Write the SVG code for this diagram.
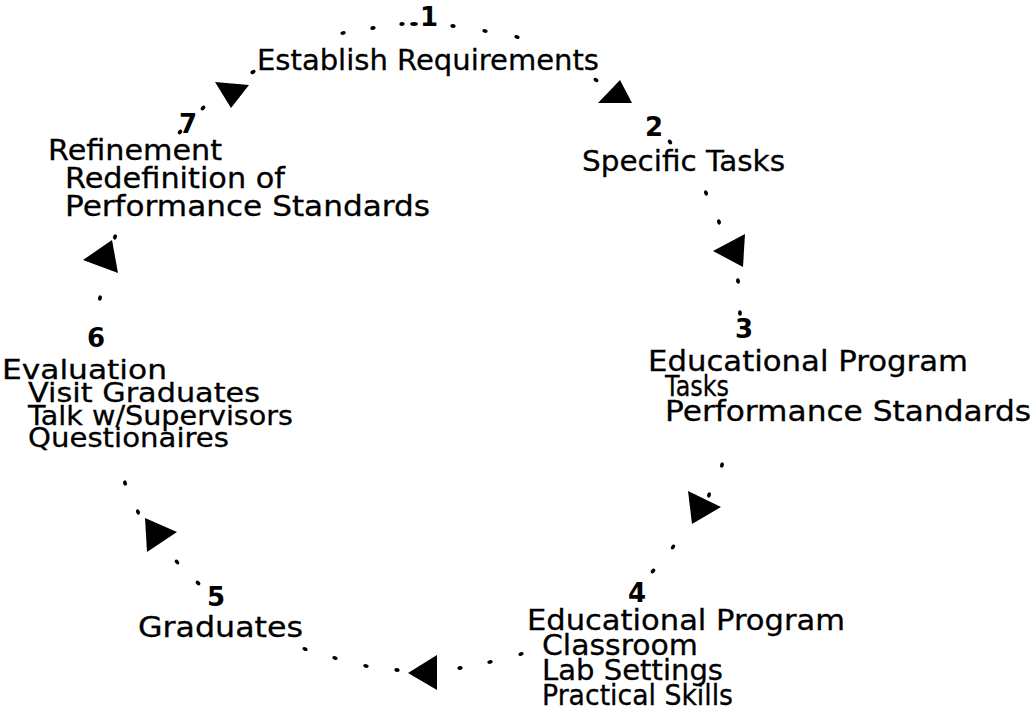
<svg xmlns="http://www.w3.org/2000/svg" xmlns:xlink="http://www.w3.org/1999/xlink" width="1036" height="728" viewBox="0 0 1036 728">
  <style>
    .t { font-family: "DejaVu Sans", "Liberation Sans", sans-serif; font-size: 28px; fill: #000; stroke: #000; stroke-width: 0.3; }
    .s { font-size: 26px; }
    .n { font-family: "DejaVu Sans", "Liberation Sans", sans-serif; font-size: 26px; font-weight: bold; fill: #000; }
    .head { fill: #000; }
    .dot { fill: #000; }
  </style>
  <defs>
    <ellipse id="dot" rx="2.7" ry="1.9"/>
    <ellipse id="dash" rx="3.8" ry="1.9"/>
  </defs>
  <rect width="1036" height="728" fill="#fff"/>

  <!-- dotted cycle with arrowheads -->
  <g id="connectors" class="dot">
    <g id="c-1-7">
      <use xlink:href="#dot" transform="translate(253,72) rotate(-30)"/>
      <use xlink:href="#dot" transform="translate(203,108) rotate(-40)"/>
      <polygon class="head" points="215,82 249,85 231,108"/>
    </g>
    <g id="c-1-2">
      <use xlink:href="#dot" transform="translate(343,33) rotate(-12)"/>
      <use xlink:href="#dot" transform="translate(373,28) rotate(-8)"/>
      <use xlink:href="#dot" transform="translate(402,24) rotate(-3)"/>
      <use xlink:href="#dash" transform="translate(414,24)"/>
      <use xlink:href="#dot" transform="translate(453,26) rotate(5)"/>
      <use xlink:href="#dot" transform="translate(485,31) rotate(10)"/>
      <use xlink:href="#dot" transform="translate(517,37) rotate(15)"/>
      <use xlink:href="#dot" transform="translate(596,80) rotate(35)"/>
      <polygon class="head" points="598,103 632,103 620,80"/>
    </g>
    <g id="c-2-3">
      <use xlink:href="#dot" transform="translate(670,142) rotate(50)"/>
      <use xlink:href="#dot" transform="translate(706,193) rotate(65)"/>
      <use xlink:href="#dot" transform="translate(719,222) rotate(70)"/>
      <polygon class="head" points="713,251 745,234 743,267"/>
      <use xlink:href="#dot" transform="translate(738,281) rotate(80)"/>
      <use xlink:href="#dot" transform="translate(740,313) rotate(85)"/>
    </g>
    <g id="c-3-4">
      <use xlink:href="#dot" transform="translate(722,465) rotate(105)"/>
      <use xlink:href="#dot" transform="translate(709,495) rotate(110)"/>
      <polygon class="head" points="688,491 721,507 692,524"/>
      <use xlink:href="#dot" transform="translate(673,547) rotate(125)"/>
      <use xlink:href="#dot" transform="translate(653,571) rotate(140)"/>
    </g>
    <g id="c-4-5">
      <use xlink:href="#dot" transform="translate(521,654) rotate(-15)"/>
      <use xlink:href="#dot" transform="translate(490,662) rotate(-10)"/>
      <use xlink:href="#dot" transform="translate(460,668) rotate(-5)"/>
      <polygon class="head" points="408,673 437,655 437,690"/>
      <use xlink:href="#dot" transform="translate(397,670) rotate(5)"/>
      <use xlink:href="#dot" transform="translate(366,666) rotate(10)"/>
      <use xlink:href="#dot" transform="translate(335,658) rotate(15)"/>
      <use xlink:href="#dot" transform="translate(305,649) rotate(20)"/>
    </g>
    <g id="c-5-6">
      <use xlink:href="#dot" transform="translate(198,583) rotate(40)"/>
      <use xlink:href="#dot" transform="translate(177,562) rotate(45)"/>
      <polygon class="head" points="145,518 177,532 147,552"/>
      <use xlink:href="#dot" transform="translate(138,512) rotate(65)"/>
      <use xlink:href="#dot" transform="translate(125,483) rotate(75)"/>
    </g>
    <g id="c-6-7">
      <use xlink:href="#dot" transform="translate(100,298) rotate(-75)"/>
      <polygon class="head" points="83,260 112,240 118,273"/>
      <use xlink:href="#dot" transform="translate(115,237) rotate(-70)"/>
      <use xlink:href="#dot" transform="translate(180,132) rotate(-50)"/>
    </g>
  </g>

  <g id="node-1">
    <text class="n" x="420" y="26">1</text>
    <text class="t" x="257" y="70" textLength="342" lengthAdjust="spacingAndGlyphs">Establish Requirements</text>
  </g>
  <g id="node-2">
    <text class="n" x="645" y="136">2</text>
    <text class="t" x="582" y="171" textLength="203" lengthAdjust="spacingAndGlyphs">Specific Tasks</text>
  </g>
  <g id="node-3">
    <text class="n" x="735" y="338">3</text>
    <text class="t" x="648" y="371" textLength="320" lengthAdjust="spacingAndGlyphs">Educational Program</text>
    <text class="t" x="665" y="396" textLength="64" lengthAdjust="spacingAndGlyphs">Tasks</text>
    <text class="t" x="665" y="421" textLength="366" lengthAdjust="spacingAndGlyphs">Performance Standards</text>
  </g>
  <g id="node-4">
    <text class="n" x="628" y="602">4</text>
    <text class="t" x="527" y="630" textLength="318" lengthAdjust="spacingAndGlyphs">Educational Program</text>
    <text class="t" x="542" y="655" textLength="156" lengthAdjust="spacingAndGlyphs">Classroom</text>
    <text class="t" x="542" y="680" textLength="181" lengthAdjust="spacingAndGlyphs">Lab Settings</text>
    <text class="t" x="542" y="705" textLength="191" lengthAdjust="spacingAndGlyphs">Practical Skills</text>
  </g>
  <g id="node-5">
    <text class="n" x="207" y="606">5</text>
    <text class="t" x="138" y="637" textLength="165" lengthAdjust="spacingAndGlyphs">Graduates</text>
  </g>
  <g id="node-6">
    <text class="n" x="87" y="347">6</text>
    <text class="t s" x="2" y="379" textLength="165" lengthAdjust="spacingAndGlyphs">Evaluation</text>
    <text class="t s" x="28" y="402" textLength="232" lengthAdjust="spacingAndGlyphs">Visit Graduates</text>
    <text class="t s" x="28" y="425" textLength="265" lengthAdjust="spacingAndGlyphs">Talk w/Supervisors</text>
    <text class="t s" x="28" y="447" textLength="201" lengthAdjust="spacingAndGlyphs">Questionaires</text>
  </g>
  <g id="node-7">
    <text class="n" x="179" y="133">7</text>
    <text class="t" x="48" y="160" textLength="174" lengthAdjust="spacingAndGlyphs">Refinement</text>
    <text class="t" x="65" y="188" textLength="220" lengthAdjust="spacingAndGlyphs">Redefinition of</text>
    <text class="t" x="65" y="216" textLength="365" lengthAdjust="spacingAndGlyphs">Performance Standards</text>
  </g>
</svg>
